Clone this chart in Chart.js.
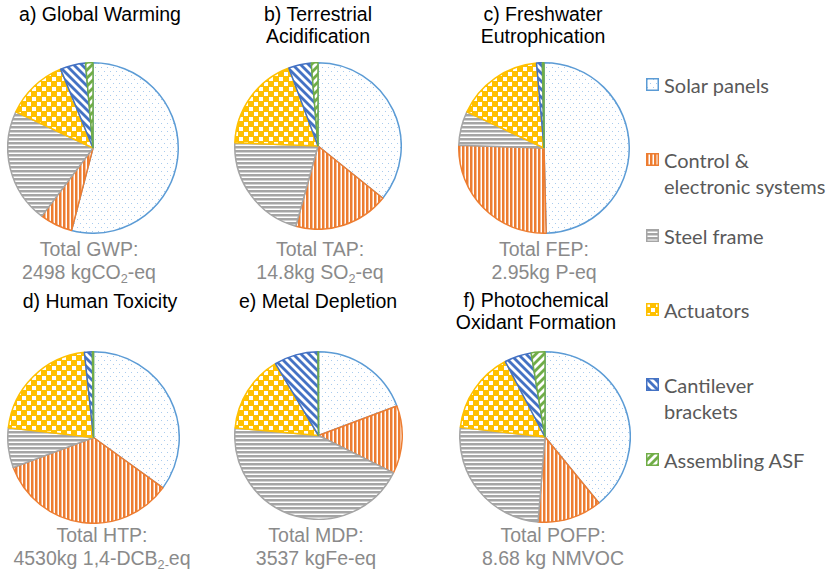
<!DOCTYPE html>
<html>
<head>
<meta charset="utf-8">
<script src="https://cdn.jsdelivr.net/npm/chart.js@4.4.1/dist/chart.umd.min.js"></script>
<style>
  html, body { margin: 0; padding: 0; background: #fff; }
  #stage { position: relative; width: 837px; height: 576px; overflow: hidden; background: #fff; }
  .pie { position: absolute; }
  .txt { position: absolute; white-space: nowrap; text-align: center; transform: translateX(-50%);
         font-family: "Liberation Sans", Arial, sans-serif; font-size: 19.5px; }
  .title { line-height: 22px; color: #000; }
  .total { line-height: 23px; color: #8a8a8a; }
  sub { font-size: 65%; line-height: 0; vertical-align: -0.3em; }
  .leg { position: absolute; left: 646px; font-family: Lato, "Open Sans", sans-serif; font-size: 20px;
         line-height: 26px; color: #595959; white-space: nowrap; }
  .leg canvas { position: absolute; left: 0; }
  .leg span { display: block; padding-left: 18px; }
</style>
</head>
<body>
<div id="stage"></div>
<script>
// Life-cycle impact split of the adaptive solar facade, by component
const components = ['Solar panels', 'Control & electronic systems', 'Steel frame',
                    'Actuators', 'Cantilever brackets', 'Assembling ASF'];
const legendLines = [['Solar panels'], ['Control &', 'electronic systems'], ['Steel frame'],
                     ['Actuators'], ['Cantilever', 'brackets'], ['Assembling ASF']];

// shares of each impact category (%), same component order as above
const gwpShares  = [54.0,  6.2, 21.7, 11.8, 4.8, 1.4];
const tapShares  = [35.8, 18.5, 21.3, 18.7, 4.4, 1.3];
const fepShares  = [49.6, 25.9,  6.5, 16.6, 1.1, 0.3];
const htpShares  = [35.0, 34.3,  7.5, 21.5, 1.5, 0.2];
const mdpShares  = [19.3, 13.1, 44.1, 15.0, 8.5, 0.1];
const pofpShares = [39.1, 12.2, 25.5, 15.5, 5.1, 2.6];

const panelTitles = [
  ['a) Global Warming'],
  ['b) Terrestrial', 'Acidification'],
  ['c) Freshwater', 'Eutrophication'],
  ['d) Human Toxicity'],
  ['e) Metal Depletion'],
  ['f) Photochemical', 'Oxidant Formation']
];
const totalLabels = [
  ['Total GWP:', '2498 kgCO<sub>2</sub>-eq'],
  ['Total TAP:', '14.8kg SO<sub>2</sub>-eq'],
  ['Total FEP:', '2.95kg P-eq'],
  ['Total HTP:', '4530kg 1,4-DCB<sub>2-</sub>eq'],
  ['Total MDP:', '3537 kgFe-eq'],
  ['Total POFP:', '8.68 kg NMVOC']
];
const panelData = [gwpShares, tapShares, fepShares, htpShares, mdpShares, pofpShares];

// ---- styling ----
const lineColors = ['#5B9BD5', '#ED7D31', '#A5A5A5', '#FFC000', '#4472C4', '#70AD47'];
const fillKinds  = ['dots', 'vlines', 'hlines', 'checker', 'down', 'up'];

// layout of each panel: pie centre, radius, title/total anchors
const panelLayout = [
  { cx: 93,  cy: 148, r: 85,   titleX: 100, titleTop: 3,   totalX: 89,  totalTop: 238 },
  { cx: 318, cy: 146, r: 83,   titleX: 318, titleTop: 3,   totalX: 320, totalTop: 238 },
  { cx: 544, cy: 148, r: 85,   titleX: 543, titleTop: 3,   totalX: 544, totalTop: 238 },
  { cx: 93,  cy: 437, r: 85.5, titleX: 100, titleTop: 290, totalX: 102, totalTop: 524 },
  { cx: 318, cy: 435, r: 83.5, titleX: 318, titleTop: 290, totalX: 316, totalTop: 524 },
  { cx: 545, cy: 437, r: 85,   titleX: 536, titleTop: 289, totalX: 553, totalTop: 524 }
];
const legendTops = [72, 147, 223, 297, 372, 447];

function makePattern(kind, color) {
  const c = document.createElement('canvas');
  const g = c.getContext('2d');
  let w = 8, h = 8;
  if (kind === 'dots') { w = 6; h = 8; }
  if (kind === 'vlines' || kind === 'hlines') { w = 4; h = 4; }
  if (kind === 'checker') { w = 10; h = 10; }
  if (kind === 'down' || kind === 'up') { w = 8; h = 8; }
  c.width = w; c.height = h;
  g.fillStyle = '#fff';
  g.fillRect(0, 0, w, h);
  g.fillStyle = color;
  g.strokeStyle = color;
  switch (kind) {
    case 'dots':
      g.fillStyle = '#a9cbee';
      g.fillRect(1, 1, 1, 1);
      g.fillRect(4, 5, 1, 1);
      break;
    case 'vlines':
      g.fillRect(0, 0, 2.5, h);
      break;
    case 'hlines':
      g.fillRect(0, 0, w, 2.5);
      break;
    case 'checker':
      g.fillRect(0, 0, w, h);
      g.fillStyle = '#fff';
      g.fillRect(0, 0, 4, 4);
      g.fillRect(5, 5, 4, 4);
      break;
    case 'down':
      g.lineWidth = 2.8;
      for (let k = -1; k <= 1; k++) {
        g.beginPath(); g.moveTo(-2, -2 + k * w); g.lineTo(w + 2, w + 2 + k * w); g.stroke();
      }
      break;
    case 'up':
      g.lineWidth = 2.8;
      for (let k = 0; k <= 2; k++) {
        g.beginPath(); g.moveTo(-2, k * w + 2); g.lineTo(w + 2, k * w - w - 2); g.stroke();
      }
      break;
  }
  return g.createPattern(c, 'repeat');
}

const fills = fillKinds.map((k, i) => makePattern(k, lineColors[i]));
const stage = document.getElementById('stage');

panelData.forEach((values, p) => {
  const L = panelLayout[p];
  const bw = 1.5;
  const size = Math.round(2 * L.r + bw);
  const cv = document.createElement('canvas');
  cv.className = 'pie';
  cv.width = size; cv.height = size;
  cv.style.width = size + 'px'; cv.style.height = size + 'px';
  cv.style.left = (L.cx - size / 2) + 'px';
  cv.style.top = (L.cy - size / 2) + 'px';
  stage.appendChild(cv);

  new Chart(cv, {
    type: 'pie',
    data: {
      labels: components,
      datasets: [{
        data: values,
        backgroundColor: fills,
        borderColor: lineColors,
        borderWidth: bw
      }]
    },
    options: {
      responsive: false,
      animation: false,
      events: [],
      layout: { padding: 0 },
      plugins: { legend: { display: false }, tooltip: { enabled: false } }
    }
  });

  const t = document.createElement('div');
  t.className = 'txt title';
  t.style.left = L.titleX + 'px';
  t.style.top = L.titleTop + 'px';
  t.innerHTML = panelTitles[p].join('<br>');
  stage.appendChild(t);

  const tot = document.createElement('div');
  tot.className = 'txt total';
  tot.style.left = L.totalX + 'px';
  tot.style.top = L.totalTop + 'px';
  tot.innerHTML = totalLabels[p].join('<br>');
  stage.appendChild(tot);
});

// legend with the same fills as the slices
components.forEach((name, i) => {
  const item = document.createElement('div');
  item.className = 'leg';
  item.style.top = legendTops[i] + 'px';
  const sw = document.createElement('canvas');
  sw.width = 13; sw.height = 13;
  sw.style.top = '6px';
  const g = sw.getContext('2d');
  g.fillStyle = fills[i];
  g.fillRect(0, 0, 13, 13);
  g.strokeStyle = lineColors[i];
  g.lineWidth = 1.5;
  g.strokeRect(0.75, 0.75, 11.5, 11.5);
  item.appendChild(sw);
  legendLines[i].forEach(line => {
    const s = document.createElement('span');
    s.textContent = line;
    item.appendChild(s);
  });
  stage.appendChild(item);
});
</script>
</body>
</html>
